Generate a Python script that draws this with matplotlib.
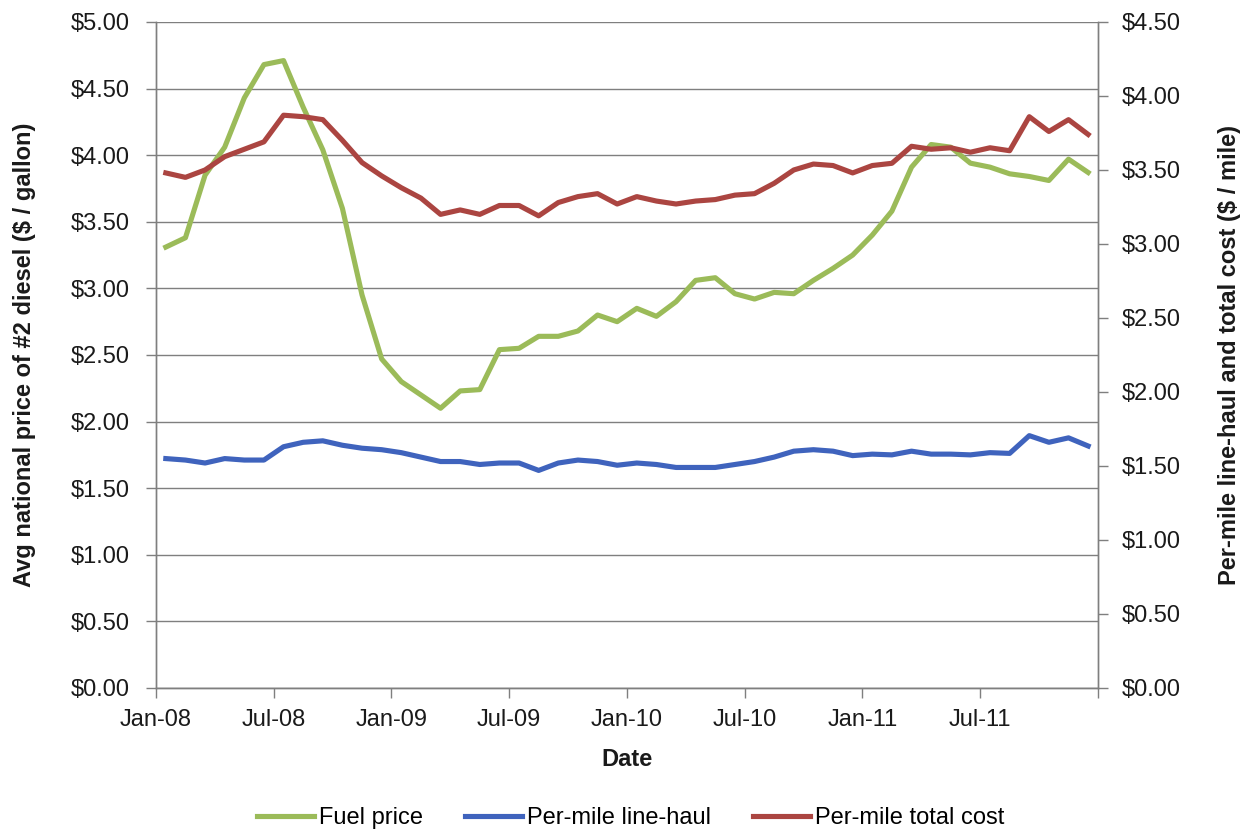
import numpy as np
import matplotlib
matplotlib.use("Agg")
import matplotlib.pyplot as plt
from matplotlib.lines import Line2D

plt.rcParams['font.family'] = ['Liberation Sans', 'DejaVu Sans']

# monthly values, Jan-08 .. Dec-11
fuel_price = [3.31, 3.38, 3.85, 4.06, 4.43, 4.68, 4.71, 4.36, 4.04, 3.60, 2.95, 2.47,
              2.30, 2.20, 2.10, 2.23, 2.24, 2.54, 2.55, 2.64, 2.64, 2.68, 2.80, 2.75,
              2.85, 2.79, 2.90, 3.06, 3.08, 2.96, 2.92, 2.97, 2.96, 3.06, 3.15, 3.25,
              3.40, 3.58, 3.91, 4.08, 4.06, 3.94, 3.91, 3.86, 3.84, 3.81, 3.97, 3.87]

line_haul = [1.55, 1.54, 1.52, 1.55, 1.54, 1.54, 1.63, 1.66, 1.67, 1.64, 1.62, 1.61,
             1.59, 1.56, 1.53, 1.53, 1.51, 1.52, 1.52, 1.47, 1.52, 1.54, 1.53, 1.505,
             1.52, 1.51, 1.49, 1.49, 1.49, 1.51, 1.53, 1.56, 1.60, 1.61, 1.60, 1.57,
             1.58, 1.575, 1.60, 1.58, 1.58, 1.575, 1.59, 1.585, 1.705, 1.66, 1.69, 1.635]

total_cost = [3.48, 3.45, 3.50, 3.59, 3.64, 3.69, 3.87, 3.86, 3.84, 3.70, 3.55, 3.46,
              3.38, 3.31, 3.20, 3.23, 3.20, 3.26, 3.26, 3.19, 3.28, 3.32, 3.34, 3.27,
              3.32, 3.29, 3.27, 3.29, 3.30, 3.33, 3.34, 3.41, 3.50, 3.54, 3.53, 3.48,
              3.53, 3.545, 3.66, 3.64, 3.65, 3.62, 3.65, 3.63, 3.86, 3.76, 3.84, 3.74]

date_labels = ["Jan-08", "Jul-08", "Jan-09", "Jul-09", "Jan-10", "Jul-10", "Jan-11", "Jul-11", ""]
left_ticks = [0, 0.5, 1, 1.5, 2, 2.5, 3, 3.5, 4, 4.5, 5]
right_ticks = [0, 0.5, 1, 1.5, 2, 2.5, 3, 3.5, 4, 4.5]

GREEN = "#9bbb59"
BLUE = "#3f63bd"
RED = "#ab4541"
GRID = "#7f7f7f"
TXT = "#1a1a1a"
FS = 17

x = np.arange(len(fuel_price))

fig = plt.figure(figsize=(12.44, 8.32), dpi=100)
ax = fig.add_axes([0.1254, 0.1731, 0.7572, 0.8005])
ax2 = ax.twinx()

ax.plot(x, fuel_price, color=GREEN, lw=3.7, zorder=3)
ax2.plot(x, line_haul, color=BLUE, lw=3.7, zorder=3)
ax2.plot(x, total_cost, color=RED, lw=3.7, zorder=3)

ax.set_xlim(-0.5, len(x) - 0.5)
ax.set_xticks(np.arange(-0.5, len(x), 6))
ax.set_xticklabels(date_labels, fontsize=FS)

ax.set_ylim(0, 5)
ax.set_yticks(left_ticks)
ax.set_yticklabels([f"${v:.2f}" for v in left_ticks], fontsize=FS)
ax2.set_ylim(0, 4.5)
ax2.set_yticks(right_ticks)
ax2.set_yticklabels([f"${v:.2f}" for v in right_ticks], fontsize=FS)

ax.yaxis.grid(True, color=GRID, lw=1.0)
ax.set_axisbelow(True)

for a in (ax, ax2):
    for s in a.spines.values():
        s.set_color(GRID)
        s.set_linewidth(1.0)
    a.spines['top'].set_visible(False)

ax.tick_params(axis='y', length=7, width=1, color=GRID, pad=12, labelcolor=TXT)
ax.tick_params(axis='x', length=7, width=1, color=GRID, pad=8, labelcolor=TXT)
ax2.tick_params(axis='y', length=7, width=1, color=GRID, pad=10, labelcolor=TXT)

ax.set_ylabel("Avg national price of #2 diesel ($ / gallon)", fontsize=FS,
              fontweight='bold', color=TXT)
ax.yaxis.set_label_coords(-0.127, 0.5)
ax2.set_ylabel("Per-mile line-haul and total cost ($ / mile)", fontsize=FS,
               fontweight='bold', color=TXT, rotation=90)
ax2.yaxis.set_label_coords(1.127, 0.5)
ax.set_xlabel("Date", fontsize=FS, fontweight='bold', color=TXT)
ax.xaxis.set_label_coords(0.5, -0.09)

handles = [Line2D([], [], color=GREEN, lw=3.7),
           Line2D([], [], color=BLUE, lw=3.7),
           Line2D([], [], color=RED, lw=3.7)]
fig.legend(handles, ["Fuel price", "Per-mile line-haul", "Per-mile total cost"],
           loc='center', bbox_to_anchor=(0.507, 0.017), ncol=3, frameon=False,
           fontsize=FS, handlelength=2.4, handletextpad=0.2, columnspacing=1.8)

fig.savefig("out.png", dpi=100)
